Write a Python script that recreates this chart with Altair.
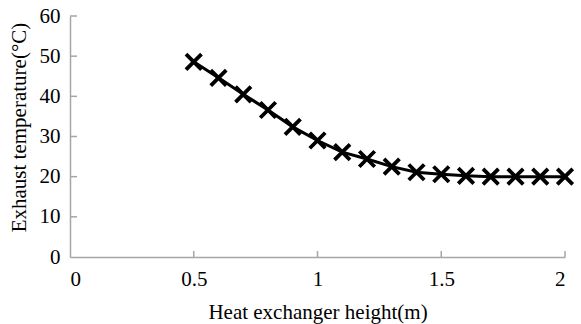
import altair as alt
import pandas as pd

heights = [0.5, 0.6, 0.7, 0.8, 0.9, 1.0, 1.1, 1.2, 1.3, 1.4, 1.5, 1.6, 1.7, 1.8, 1.9, 2.0]
temps = [48.6, 44.6, 40.5, 36.6, 32.4, 29.0, 26.1, 24.4, 22.5, 21.1, 20.6, 20.2, 20.0, 20.0, 20.0, 20.0]
x_ticks = [0, 0.5, 1, 1.5, 2]
y_ticks = [0, 10, 20, 30, 40, 50, 60]

W, H = 495, 241
FONT = "Liberation Serif"
FS = 21
AX = "#a6a6a6"

df = pd.DataFrame({"h": heights, "t": temps})
xs = alt.Scale(domain=[0, 2], nice=False, zero=False)
ys = alt.Scale(domain=[0, 60], nice=False)

base = alt.Chart(df)

line = base.mark_line(color="black", strokeWidth=3).encode(
    x=alt.X("h:Q", scale=xs, title="Heat exchanger height(m)",
            axis=alt.Axis(values=x_ticks, format="~g",
                          labelBaseline="alphabetic", labelPadding=28,
                          titleBaseline="alphabetic", titleY=61, titleX=W / 2)),
    y=alt.Y("t:Q", scale=ys, title="Exhaust temperature(°C)",
            axis=alt.Axis(values=y_ticks, labelPadding=10,
                          titleBaseline="middle", titleX=-51, titleY=111)),
)

pts = base.mark_point(
    shape="M-1,-1L1,1M-1,1L1,-1", size=240, strokeWidth=3.8,
    color="black", filled=False, opacity=1
).encode(x="h:Q", y="t:Q")

xt = alt.Chart(pd.DataFrame({"v": x_ticks[1:]})).mark_rule(color=AX, strokeWidth=1.5).encode(
    x="v:Q", y=alt.value(H), y2=alt.value(H - 6))
yt = alt.Chart(pd.DataFrame({"v": y_ticks[1:]})).mark_rule(color=AX, strokeWidth=1.5).encode(
    y="v:Q", x=alt.value(0), x2=alt.value(7))

chart = alt.layer(line, pts, xt, yt).properties(
    width=W, height=H,
    autosize=alt.AutoSizeParams(type="none"),
    padding={"left": 70, "top": 16, "right": 16, "bottom": 67},
    background="white",
).configure_view(stroke=None).configure_axis(
    ticks=False, grid=False, domainColor=AX, domainWidth=1.5,
    labelFont=FONT, labelFontSize=FS, labelColor="black",
    titleFont=FONT, titleFontSize=FS, titleFontWeight="normal", titleColor="black",
)

chart.save("out.html", embed_options={"renderer": "svg", "actions": False})
